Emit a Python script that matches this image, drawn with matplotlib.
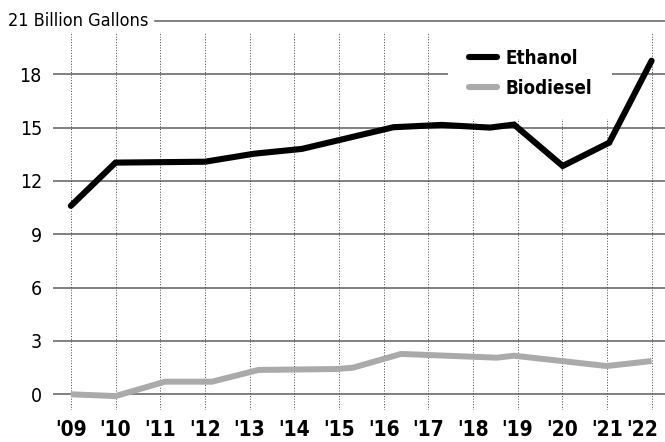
import matplotlib
matplotlib.use("Agg")
import matplotlib.pyplot as plt
import matplotlib.font_manager as fm
import matplotlib.transforms as mtransforms
from matplotlib.lines import Line2D

# ---------------- data ----------------
years = list(range(2009, 2023))
year_labels = ["'09", "'10", "'11", "'12", "'13", "'14", "'15", "'16",
               "'17", "'18", "'19", "'20", "'21", "'22"]

ethanol_x = [2009, 2010, 2012, 2013.10, 2014.17, 2016.22, 2017.30,
             2018.38, 2018.92, 2020.01, 2021.05, 2022]
ethanol_y = [10.6, 13.03, 13.08, 13.53, 13.8, 15.02, 15.15,
             15.0, 15.17, 12.84, 14.15, 18.76]

biodiesel_x = [2009, 2010, 2011.11, 2012.16, 2013.2, 2014.95, 2015.32,
               2016.39, 2018.53, 2018.92, 2020.99, 2022]
biodiesel_y = [0.0, -0.1, 0.71, 0.71, 1.37, 1.42, 1.5,
               2.27, 2.06, 2.17, 1.59, 1.87]

y_ticks = [0, 3, 6, 9, 12, 15, 18]
top_value = 21
unit_label = "21 Billion Gallons"
series_names = ["Ethanol", "Biodiesel"]

# ---------------- fonts ----------------
names = {f.name for f in fm.fontManager.ttflist}
if "Liberation Sans Narrow" in names:
    FAM = ["Liberation Sans Narrow", "DejaVu Sans"]
    STRETCH = "normal"
else:
    FAM = ["DejaVu Sans"]
    STRETCH = "condensed"
plt.rcParams["font.family"] = FAM
plt.rcParams["font.stretch"] = STRETCH

ETH_COLOR = "#000000"
BIO_COLOR = "#aaaaaa"
GRID_COLOR = "#5e5e5e"

fig = plt.figure(figsize=(6.65, 4.42), dpi=100)
ax = fig.add_axes([53 / 665, (442 - 410.3) / 442, 612 / 665, (410.3 - 20.9) / 442])

ax.set_xlim(2008.6, 2022.3)
ax.set_ylim(-0.9, top_value)

# horizontal grid
for v in y_ticks:
    ax.axhline(v, color=GRID_COLOR, lw=1.1, zorder=1)
ax.axhline(top_value, xmin=(155 - 53) / 612, xmax=1, color=GRID_COLOR,
           lw=1.1, zorder=1, clip_on=False)

# vertical dotted grid
for yr in years:
    ax.plot([yr, yr], [-0.9, 20.3], color="#444444", lw=0.7,
            linestyle=(0, (1, 1.8)), zorder=1)

ax.plot(biodiesel_x, biodiesel_y, color=BIO_COLOR, lw=4.3,
        solid_capstyle="butt", solid_joinstyle="miter", zorder=6)
ax.plot(ethanol_x, ethanol_y, color=ETH_COLOR, lw=4.4,
        solid_capstyle="round", solid_joinstyle="miter", zorder=7)

for s in ax.spines.values():
    s.set_visible(False)

ax.set_yticks(y_ticks)
ax.set_yticklabels([str(v) for v in y_ticks], fontsize=14)
ax.set_xticks(years)
ax.set_xticklabels(year_labels, fontsize=15, fontweight="bold")
ax.tick_params(axis="both", length=0)
ax.tick_params(axis="y", pad=8)
ax.tick_params(axis="x", pad=7)
last = ax.get_xticklabels()[-1]
last.set_transform(last.get_transform() +
                   mtransforms.ScaledTranslation(-9 / 100, 0, fig.dpi_scale_trans))

fig.text(8 / 665, 1 - 20.9 / 442, unit_label, fontsize=13,
         ha="left", va="center")

handles = [Line2D([0], [0], color=ETH_COLOR, lw=4.4, solid_capstyle="round"),
           Line2D([0], [0], color=BIO_COLOR, lw=4.4, solid_capstyle="round")]
leg = ax.legend(handles, series_names, loc="upper left",
                bbox_to_anchor=((448 - 53) / 612, (410.3 - 28) / (410.3 - 20.9)),
                borderaxespad=0, borderpad=1.1, handlelength=1.5,
                handletextpad=0.45, labelspacing=0.6, frameon=True,
                fancybox=False, prop={"weight": "bold", "size": 13.5,
                                      "family": FAM, "stretch": STRETCH})
leg.get_frame().set_facecolor("white")
leg.get_frame().set_edgecolor("none")
leg.get_frame().set_alpha(1)
leg.set_zorder(5)

fig.savefig("out.png", dpi=100)
